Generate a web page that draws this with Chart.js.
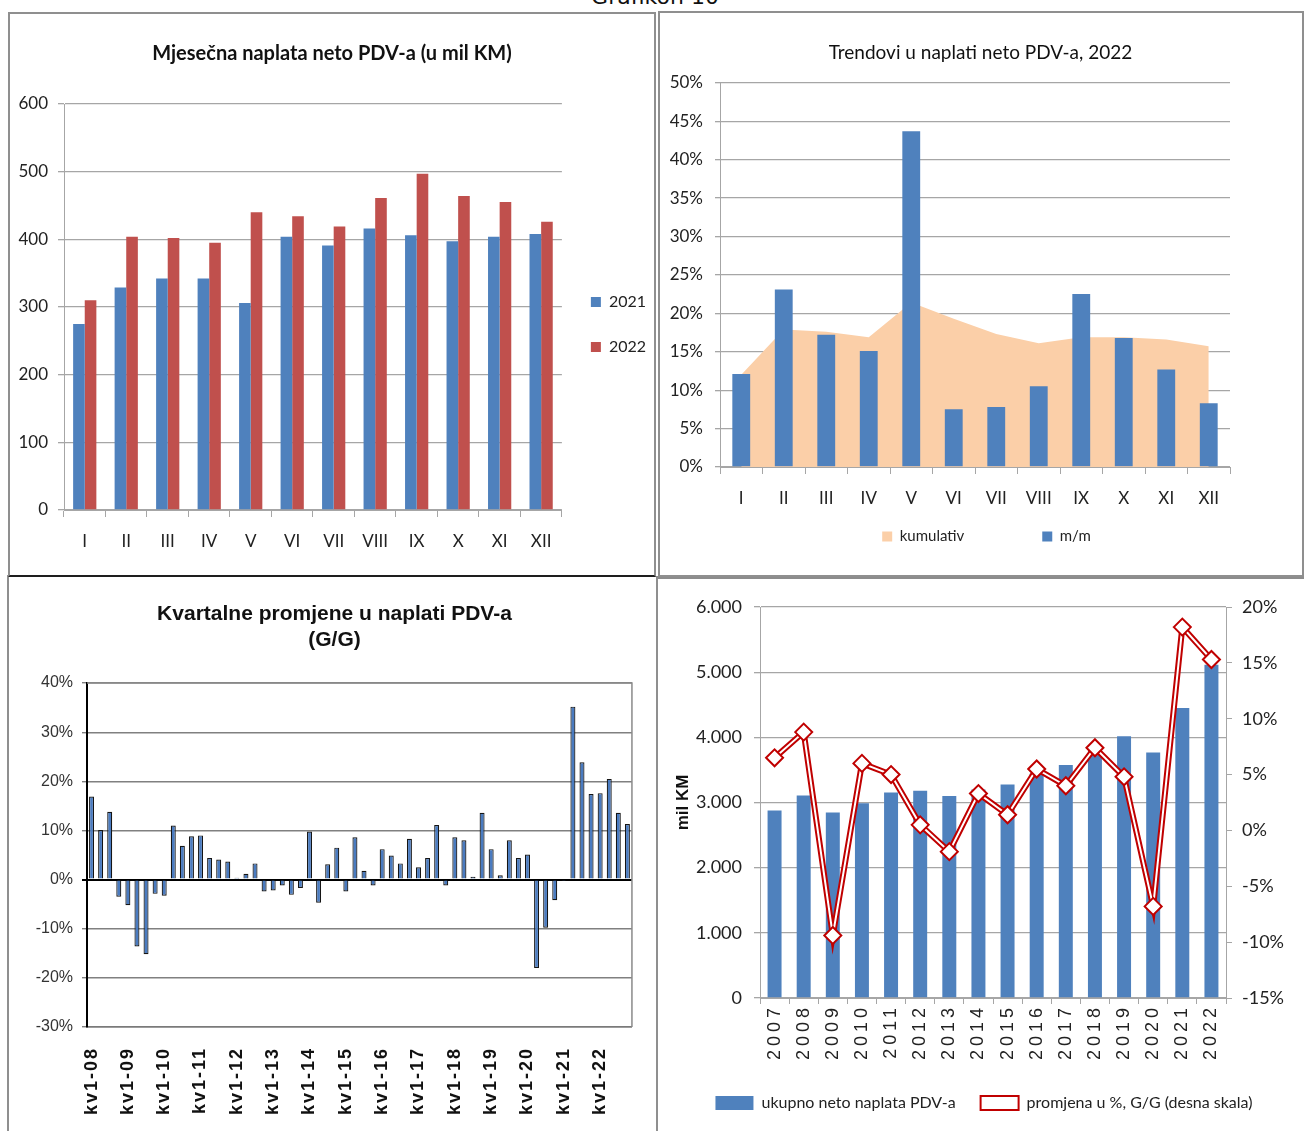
<!DOCTYPE html>
<html>
<head>
<meta charset="utf-8">
<script src="https://cdn.jsdelivr.net/npm/chart.js@4.4.1/dist/chart.umd.min.js"></script>
<style>
html,body{margin:0;padding:0;background:#fff;width:1304px;height:1131px;overflow:hidden;position:relative;}
.box{position:absolute;box-sizing:border-box;}
canvas{position:absolute;}
#naslov{position:absolute;left:0;width:1310px;top:-14px;text-align:center;font-family:'DejaVu Sans',sans-serif;font-size:22px;line-height:22px;color:#111;}
</style>
</head>
<body>
<div class="box" style="left:7px;top:575px;width:651px;height:570px;border-left:2px solid #8f8f8f;"></div>
<div class="box" style="left:656px;top:576px;width:650px;height:570px;border-top:3px solid #8c8c8c;border-left:2px solid #8f8f8f;border-right:2px solid #8f8f8f;"></div>
<div class="box" style="left:8px;top:12px;width:648px;height:565px;border:2px solid #8f8f8f;border-bottom:2px solid #1e1e1e;"></div>
<div class="box" style="left:658px;top:11px;width:646px;height:566px;border:2px solid #8f8f8f;"></div>
<div id="naslov">Grafikon 10</div>
<canvas id="c1" width="648" height="563" style="left:8px;top:13px"></canvas>
<canvas id="c2" width="645" height="624" style="left:658px;top:12px"></canvas>
<canvas id="c3" width="653" height="554" style="left:8px;top:577px"></canvas>
<canvas id="c4" width="646" height="554" style="left:657px;top:577px"></canvas>
<script>
// ---------- DATA ----------
const mjeseci = ['I','II','III','IV','V','VI','VII','VIII','IX','X','XI','XII'];
const naplata2021 = [275, 329, 342, 342, 306, 404, 391, 416, 406, 397, 404, 408];
const naplata2022 = [310, 404, 402, 395, 440, 434, 419, 461, 497, 464, 455, 426];

const mmRast = [12.1, 23.1, 17.2, 15.1, 43.7, 7.5, 7.8, 10.5, 22.5, 16.8, 12.7, 8.3];
const kumulativ = [12.0, 17.9, 17.6, 16.9, 21.4, 19.3, 17.3, 16.1, 16.9, 16.9, 16.6, 15.7];

const kvartali = [
  'kv1-08','kv2-08','kv3-08','kv4-08','kv1-09','kv2-09','kv3-09','kv4-09',
  'kv1-10','kv2-10','kv3-10','kv4-10','kv1-11','kv2-11','kv3-11','kv4-11',
  'kv1-12','kv2-12','kv3-12','kv4-12','kv1-13','kv2-13','kv3-13','kv4-13',
  'kv1-14','kv2-14','kv3-14','kv4-14','kv1-15','kv2-15','kv3-15','kv4-15',
  'kv1-16','kv2-16','kv3-16','kv4-16','kv1-17','kv2-17','kv3-17','kv4-17',
  'kv1-18','kv2-18','kv3-18','kv4-18','kv1-19','kv2-19','kv3-19','kv4-19',
  'kv1-20','kv2-20','kv3-20','kv4-20','kv1-21','kv2-21','kv3-21','kv4-21',
  'kv1-22','kv2-22','kv3-22','kv4-22'];
const kvartalnePromjene = [
  16.9, 10.1, 13.8, -3.5, -5.2, -13.6, -15.2, -2.9,
  -3.3, 11.0, 6.9, 8.8, 9.0, 4.4, 4.1, 3.7,
  0.4, 1.2, 3.3, -2.4, -2.2, -1.2, -3.1, -1.7,
  9.8, -4.7, 3.1, 6.5, -2.4, 8.6, 1.8, -1.2,
  6.2, 4.9, 3.3, 8.3, 2.5, 4.4, 11.1, -1.2,
  8.6, 8.0, 0.6, 13.6, 6.2, 0.9, 8.0, 4.4,
  5.1, -18.0, -9.8, -4.2, -0.3, 35.2, 23.9, 17.4,
  17.6, 20.5, 13.6, 11.3];

const godine = ['2007','2008','2009','2010','2011','2012','2013','2014','2015','2016','2017','2018','2019','2020','2021','2022'];
const ukupnoNaplata = [2878, 3107, 2848, 2990, 3152, 3180, 3100, 3200, 3275, 3440, 3575, 3800, 4015, 3766, 4452, 5112];
const promjenaGG = [6.5, 8.8, -9.4, 6.0, 5.0, 0.5, -1.9, 3.3, 1.4, 5.5, 4.0, 7.4, 4.8, -6.8, 18.2, 15.3];

// ---------- STYLE ----------
const NARROW = "Lato,'Liberation Sans',sans-serif";
const ARIAL = "'Liberation Sans',Arial,sans-serif";
const BLUE = '#4F81BD', RED = '#C0504D', GRID = '#a6a6a6';

Chart.defaults.color = '#1a1a1a';
Chart.defaults.font.family = NARROW;
Chart.defaults.animation = false;
Chart.defaults.responsive = false;
Chart.defaults.maintainAspectRatio = false;
Chart.defaults.plugins.tooltip.enabled = false;

const legendShift = {
  id: 'legendShift',
  afterLayout(chart, args, opts) {
    const l = chart.legend;
    if (!l) return;
    const dy = opts.dy || 0, dx = opts.dx || 0;
    l.top += dy; l.bottom += dy; l.left += dx; l.right += dx;
  }
};
const spacedLabels = {
  id: 'spacedLabels',
  beforeDraw(chart, args, opts) {
    const s = chart.scales[opts.scale || 'x'];
    if (s && !s.__spaced) {
      const orig = s.drawLabels;
      s.drawLabels = function(area) {
        const c = this.ctx; c.save(); c.letterSpacing = opts.spacing || '0px';
        orig.call(this, area); c.restore();
      };
      s.__spaced = true;
    }
  }
};
const plotBorder = {
  id: 'plotBorder',
  beforeDatasetsDraw(chart, args, opts) {
    const {left, top, right, bottom} = chart.chartArea;
    const c = chart.ctx;
    c.save(); c.strokeStyle = opts.color; c.lineWidth = opts.width;
    c.beginPath(); c.moveTo(left, top); c.lineTo(right, top); c.lineTo(right, bottom); c.stroke();
    c.restore();
  }
};
const spacer = w => ({type: 'linear', position: 'right', display: true,
  ticks: {display: false}, grid: {display: false}, border: {display: false},
  afterFit: s => { s.width = w; }});

// ---------- CHART 1 ----------
new Chart(document.getElementById('c1'), {
  type: 'bar',
  data: {
    labels: mjeseci,
    datasets: [
      {label: '2021', data: naplata2021, backgroundColor: BLUE, categoryPercentage: 0.56, barPercentage: 1},
      {label: '2022', data: naplata2022, backgroundColor: RED, categoryPercentage: 0.56, barPercentage: 1}
    ]
  },
  options: {
    layout: {padding: {left: 0, right: 0, top: 0, bottom: 0}},
    plugins: {
      title: {display: true, text: 'Mjesečna naplata neto PDV-a (u mil KM)', color: '#111',
        font: {size: 20, weight: 'bold', family: NARROW, lineHeight: 1.2}, padding: {top: 29, bottom: 38}},
      legend: {position: 'right', labels: {boxWidth: 10, boxHeight: 10, padding: 29, color: '#222', font: {size: 16, family: NARROW}}},
      legendShift: {dy: 30}
    },
    scales: {
      x: {grid: {display: true, drawOnChartArea: false, offset: true, tickLength: 7, color: GRID},
          border: {color: GRID}, ticks: {font: {size: 17}, padding: 14, color: '#222'},
          afterFit: s => { s.height = 66; }},
      y: {min: 0, max: 600, ticks: {stepSize: 100, font: {size: 17}, padding: 10, color: '#222'},
          grid: {color: GRID, tickLength: 6, lineWidth: 1.3}, border: {color: GRID},
          afterFit: s => { s.width = 56; }}
    }
  },
  plugins: [legendShift]
});

// ---------- CHART 2 ----------
new Chart(document.getElementById('c2'), {
  type: 'bar',
  data: {
    labels: mjeseci,
    datasets: [
      {type: 'line', label: 'kumulativ', data: kumulativ, backgroundColor: '#FBCFA8', borderColor: 'rgba(0,0,0,0)',
       borderWidth: 0, fill: 'origin', pointRadius: 0, tension: 0, order: 2},
      {type: 'bar', label: 'm/m', data: mmRast, backgroundColor: BLUE, barPercentage: 0.42, categoryPercentage: 1, order: 1}
    ]
  },
  options: {
    layout: {padding: {left: 0, right: 0, top: 0, bottom: 6}},
    plugins: {
      title: {display: true, text: 'Trendovi u naplati neto PDV-a, 2022', color: '#111',
        font: {size: 19, weight: 'normal', family: NARROW, lineHeight: 1.2}, padding: {top: 29, bottom: 19}},
      legend: {position: 'bottom', labels: {boxWidth: 10, boxHeight: 10, padding: 78, color: '#222', font: {size: 15, family: NARROW},
        sort: (a, b) => a.datasetIndex - b.datasetIndex}},
      legendShift: {dy: -76, dx: 6}
    },
    scales: {
      x: {grid: {display: true, drawOnChartArea: false, offset: true, tickLength: 7, color: GRID},
          border: {color: GRID}, ticks: {font: {size: 17}, padding: 14, color: '#222'},
          afterFit: s => { s.height = 60; }},
      y: {min: 0, max: 50, ticks: {stepSize: 5, font: {size: 17}, padding: 12, color: '#222', callback: v => v + '%'},
          grid: {color: GRID, tickLength: 5, lineWidth: 1.3}, border: {color: GRID},
          afterFit: s => { s.width = 62; }},
      rpad: spacer(73)
    }
  },
  plugins: [legendShift]
});

// ---------- CHART 3 ----------
new Chart(document.getElementById('c3'), {
  type: 'bar',
  data: {
    labels: kvartali,
    datasets: [
      {label: 'G/G', data: kvartalnePromjene, backgroundColor: '#4A7BC0', borderColor: '#151515', borderWidth: 1.2,
       barPercentage: 0.55, categoryPercentage: 1}
    ]
  },
  options: {
    layout: {padding: {left: 0, right: 0, top: 0, bottom: 0}},
    plugins: {
      title: {display: true, text: ['Kvartalne promjene u naplati PDV-a', '(G/G)'], color: '#111',
        font: {size: 21, weight: 'bold', family: ARIAL, lineHeight: 1.24}, padding: {top: 24, bottom: 30}},
      legend: {display: false},
      plotBorder: {color: '#8a8a8a', width: 1.5},
      spacedLabels: {scale: 'x', spacing: '2px'}
    },
    scales: {
      x: {grid: {display: false}, border: {color: '#7a7a7a', width: 1.5},
          ticks: {autoSkip: false, minRotation: 90, maxRotation: 90, padding: 12, color: '#111',
            font: {size: 18, weight: 'bold', family: ARIAL},
            callback: function(value) { const l = this.getLabelForValue(value); return l.indexOf('kv1') === 0 ? l : ''; }},
          afterFit: s => { s.height = 104; }},
      y: {min: -30, max: 40, ticks: {stepSize: 10, font: {size: 16, family: ARIAL}, padding: 9, color: '#333', callback: v => v + '%'},
          grid: {color: c => c.tick.value === 0 ? '#000' : '#808080', lineWidth: c => c.tick.value === 0 ? 2 : 1.4, tickLength: 5},
          border: {color: '#000', width: 2},
          afterFit: s => { s.width = 79; }}
    }
  },
  plugins: [plotBorder, spacedLabels]
});

// ---------- CHART 4 ----------
new Chart(document.getElementById('c4'), {
  type: 'bar',
  data: {
    labels: godine,
    datasets: [
      {type: 'bar', label: 'ukupno neto naplata PDV-a', data: ukupnoNaplata, backgroundColor: BLUE,
       barPercentage: 0.48, categoryPercentage: 1, yAxisID: 'y', order: 3},
      {type: 'line', label: 'promjena u %, G/G (desna skala)', data: promjenaGG, yAxisID: 'y1',
       borderColor: '#C00000', backgroundColor: '#fff', borderWidth: 6, pointRadius: 0, tension: 0, order: 2},
      {type: 'line', label: 'inner', data: promjenaGG, yAxisID: 'y1',
       borderColor: '#fff', backgroundColor: '#fff', borderWidth: 2, tension: 0,
       pointStyle: 'rectRot', pointRadius: 8.5, pointBackgroundColor: '#fff', pointBorderColor: '#C00000', pointBorderWidth: 2, order: 1}
    ]
  },
  options: {
    layout: {padding: {left: 0, right: 0, top: 30, bottom: 10}},
    plugins: {
      legend: {position: 'bottom', labels: {boxWidth: 38, boxHeight: 14, padding: 25, color: '#222', font: {size: 16, family: NARROW},
        generateLabels(chart) {
          const items = Chart.defaults.plugins.legend.labels.generateLabels(chart);
          items.forEach(it => { if (it.datasetIndex === 1) { it.fillStyle = '#fff'; it.strokeStyle = '#C00000'; it.lineWidth = 2; } });
          return items;
        },
        filter: it => it.datasetIndex !== 2,
        sort: (a, b) => a.datasetIndex - b.datasetIndex}},
      legendShift: {dx: 4},
      spacedLabels: {scale: 'x', spacing: '4px'}
    },
    scales: {
      x: {grid: {display: true, drawOnChartArea: false, offset: true, tickLength: 6, color: GRID},
          border: {color: GRID}, ticks: {autoSkip: false, minRotation: 90, maxRotation: 90, padding: 0, color: '#222',
            font: {size: 18, family: ARIAL}},
          afterFit: s => { s.height = 72; }},
      y: {position: 'left', min: 0, max: 6000,
          ticks: {stepSize: 1000, font: {size: 18}, padding: 12, color: '#222', callback: v => v === 0 ? '0' : (v / 1000) + '.000'},
          grid: {color: GRID, tickLength: 6, lineWidth: 1.3}, border: {color: GRID},
          title: {display: true, text: 'mil KM', color: '#111', font: {size: 17, weight: 'bold', family: ARIAL, lineHeight: 1.2}, padding: {top: 16, bottom: 0}},
          afterFit: s => { s.width = 103; }},
      y1: {position: 'right', min: -15, max: 20,
          ticks: {stepSize: 5, font: {size: 18}, padding: 10, color: '#222', callback: v => v + '%'},
          grid: {drawOnChartArea: false, tickLength: 6, color: GRID}, border: {color: GRID},
          afterFit: s => { s.width = 77; }}
    }
  },
  plugins: [spacedLabels, legendShift]
});
</script>
</body>
</html>
